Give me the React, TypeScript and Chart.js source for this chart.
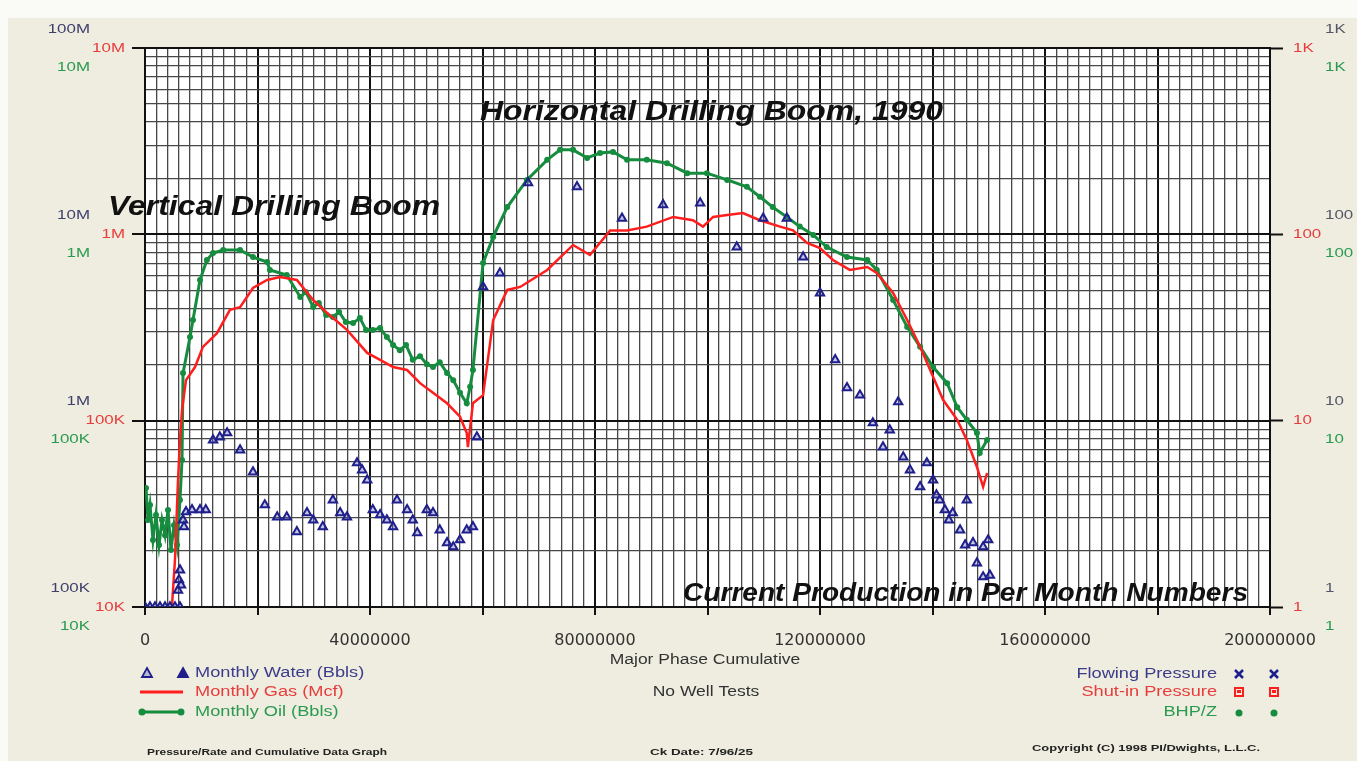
import React, { useEffect, useRef } from 'react';
import { Chart, registerables } from 'chart.js';

Chart.register(...registerables);

// ---------------- DATA ----------------
// Major phase cumulative (x), in millions
const oilCumM = [0.18, 0.53, 0.89, 1.42, 1.96, 2.49, 3.02, 3.56, 4.09, 4.62, 5.16, 5.69, 6.22, 6.58, 6.76, 8.0, 8.53, 9.78, 11.0, 12.1, 13.9, 16.9, 19.2, 21.7, 22.2, 25.2, 27.6, 28.6, 29.9, 30.9, 32.2, 33.4, 34.5, 35.7, 37.0, 38.2, 39.3, 40.5, 41.8, 43.0, 44.1, 45.3, 46.4, 47.6, 48.9, 50.1, 51.2, 52.4, 53.7, 54.8, 56.0, 57.2, 57.8, 58.3, 60.1, 61.9, 64.4, 67.9, 71.5, 73.8, 76.1, 78.6, 80.9, 83.2, 85.7, 89.2, 92.8, 96.4, 99.9, 103.5, 107.0, 109.3, 111.6, 114.1, 116.4, 118.8, 121.2, 124.8, 128.4, 130.1, 133.0, 135.5, 137.8, 140.1, 142.6, 144.4, 146.1, 147.9, 148.4, 149.7];
// Monthly oil (Bbls), in thousands
const oilK = [43.5, 29.3, 35.3, 22.9, 31.2, 21.5, 29.3, 24.3, 33.2, 20.2, 27.5, 21.5, 37.5, 61.5, 180, 281, 347, 569, 728, 794, 824, 824, 755, 710, 644, 605, 461, 490, 407, 428, 369, 360, 383, 338, 334, 356, 307, 307, 314, 281, 255, 239, 255, 212, 222, 201, 194, 206, 180, 165, 141, 124, 152, 187, 702, 968, 1400, 1960, 2510, 2840, 2840, 2570, 2730, 2770, 2510, 2510, 2410, 2130, 2130, 1960, 1800, 1590, 1400, 1240, 1100, 992, 855, 755, 728, 644, 444, 318, 249, 194, 159, 118, 101, 85.9, 67.1, 78.8];

const gasCumM = [4.8, 5.33, 5.87, 6.22, 6.58, 7.29, 8.89, 10.3, 12.8, 15.1, 16.9, 19.2, 21.7, 24.0, 27.0, 29.9, 32.4, 35.9, 39.5, 41.8, 44.1, 46.6, 48.9, 51.2, 53.7, 56.0, 57.2, 57.4, 58.3, 60.1, 61.9, 64.4, 66.7, 71.5, 76.1, 79.1, 82.7, 85.7, 89.2, 93.9, 97.4, 99.2, 101.0, 103.5, 106.3, 109.3, 112.9, 115.2, 117.7, 120.0, 122.3, 125.3, 128.4, 130.1, 133.0, 135.5, 137.8, 140.1, 141.9, 144.4, 146.1, 147.9, 149.0, 149.7];
// Monthly gas (Mcf), in thousands
const gasK = [10.2, 17.9, 48.0, 78.7, 114, 165, 194, 249, 295, 393, 407, 515, 569, 590, 569, 444, 378, 307, 231, 212, 194, 187, 159, 141, 124, 105, 85.9, 72.2, 124, 137, 347, 503, 522, 644, 877, 775, 1050, 1050, 1100, 1240, 1190, 1100, 1240, 1270, 1300, 1190, 1100, 1050, 898, 845, 728, 644, 668, 620, 484, 347, 249, 172, 129, 101, 78.7, 56.4, 44.1, 52.4];

const waterCumM = [0, 0.89, 1.78, 2.67, 3.56, 4.44, 5.33, 6.22, 5.87, 6.04, 6.22, 6.4, 6.76, 6.93, 7.29, 8.36, 9.78, 10.8, 12.1, 13.3, 14.6, 16.9, 19.2, 21.3, 23.5, 25.2, 27.0, 28.8, 29.9, 31.6, 33.4, 34.7, 35.9, 37.7, 38.6, 39.5, 40.5, 41.8, 43.0, 44.1, 44.8, 46.6, 47.6, 48.4, 50.1, 51.2, 52.4, 53.7, 54.8, 56.0, 57.2, 58.3, 59.0, 60.1, 63.1, 68.1, 76.8, 84.8, 92.1, 98.7, 105.2, 109.9, 114.1, 117.0, 120.0, 122.7, 124.8, 127.1, 129.4, 131.2, 132.4, 133.9, 134.8, 136.0, 137.8, 139.0, 140.1, 140.7, 141.3, 142.2, 142.9, 143.6, 144.9, 145.8, 146.1, 147.2, 147.9, 149.0, 149.0, 149.9, 150.2];
// Monthly water (Bbls), in thousands
const waterK = [100, 100, 100, 100, 100, 100, 100, 100, 123, 140, 158, 131, 293, 269, 324, 332, 332, 332, 787, 817, 859, 696, 530, 353, 304, 304, 253, 320, 293, 269, 375, 320, 304, 593, 543, 480, 332, 312, 293, 269, 375, 332, 293, 250, 332, 320, 259, 221, 210, 229, 259, 269, 817, 5220, 6200, 18900, 18000, 12200, 14400, 14700, 8550, 12200, 12200, 7550, 4840, 2120, 1500, 1370, 972, 722, 891, 1260, 638, 543, 441, 593, 480, 399, 375, 332, 293, 320, 259, 215, 375, 221, 172, 210, 145, 229, 148];

// Axis tick values and labels
const xTickValues = [0, 40e6, 80e6, 120e6, 160e6, 200e6];
const xTickLabels = ['0', '40000000', '80000000', '120000000', '160000000', '200000000'];
const waterDecades = [1e5, 1e6, 1e7, 1e8];
const waterDecadeLabels = ['100K', '1M', '10M', '100M'];
const gasDecades = [1e4, 1e5, 1e6, 1e7];
const gasDecadeLabels = ['10K', '100K', '1M', '10M'];
const oilDecades = [1e4, 1e5, 1e6, 1e7];
const oilDecadeLabels = ['10K', '100K', '1M', '10M'];
const pressureDecades = [1, 10, 100, 1000];
const pressureDecadeLabels = ['1', '10', '100', '1K'];

// Text
const titleHorizontal = 'Horizontal Drilling Boom, 1990';
const titleVertical = 'Vertical Drilling Boom';
const titleCurrent = 'Current Production in Per Month Numbers';
const xAxisTitle = 'Major Phase Cumulative';
const wellTestNote = 'No Well Tests';
const leftLegend = ['Monthly Water (Bbls)', 'Monthly Gas (Mcf)', 'Monthly Oil (Bbls)'];
const rightLegend = ['Flowing Pressure', 'Shut-in Pressure', 'BHP/Z'];
const footerLeft = 'Pressure/Rate and Cumulative Data Graph';
const footerCenter = 'Ck Date: 7/96/25';
const footerRight = 'Copyright (C) 1998 PI/Dwights, L.L.C.';

// ---------------- STYLE ----------------
const NAVY = '#1f1f8c';
const RED = '#ff1e1e';
const GREEN = '#168c3e';
const NAVY_T = '#3c3c8c';
const RED_T = '#e83c3c';
const GREEN_T = '#2a9a50';
const MINOR = '#474747';
const FONT = '"Liberation Sans", Arial, sans-serif';

const isDecade = (v: number) => {
  if (!(v > 0)) return false;
  const l = Math.log10(v);
  return Math.abs(l - Math.round(l)) < 1e-6;
};
const logTicks = (min: number, max: number) => {
  const out: { value: number }[] = [];
  const e0 = Math.round(Math.log10(min));
  const e1 = Math.round(Math.log10(max));
  for (let e = e0; e < e1; e++) for (let m = 1; m < 10; m++) out.push({ value: m * Math.pow(10, e) });
  out.push({ value: max });
  return out;
};
const isMajorX = (v: number) => Math.abs(v / 20e6 - Math.round(v / 20e6)) < 1e-9;

function stext(
  ctx: CanvasRenderingContext2D,
  text: string,
  x: number,
  y: number,
  size: number,
  color: string,
  align: CanvasTextAlign,
  sx = 1.3,
  style = ''
) {
  ctx.save();
  ctx.font = `${style} ${size}px ${FONT}`;
  ctx.fillStyle = color;
  ctx.textBaseline = 'middle';
  ctx.textAlign = align;
  ctx.translate(x, y);
  ctx.scale(sx, 1);
  ctx.fillText(text, 0, 0);
  ctx.restore();
}

function fitText(
  ctx: CanvasRenderingContext2D,
  text: string,
  x: number,
  y: number,
  size: number,
  color: string,
  width: number,
  style = ''
) {
  ctx.save();
  ctx.font = `${style} ${size}px ${FONT}`;
  const w = ctx.measureText(text).width || 1;
  ctx.restore();
  stext(ctx, text, x, y, size, color, 'left', width / w, style);
}

const backgroundPlugin = {
  id: 'bg',
  beforeDraw(chart: any) {
    const { ctx, width, height, chartArea } = chart;
    ctx.save();
    ctx.fillStyle = '#fafaf6';
    ctx.fillRect(0, 0, width, height);
    ctx.fillStyle = '#eeeddf';
    ctx.fillRect(8, 18, width - 8, height - 18);
    ctx.fillStyle = '#ffffff';
    ctx.fillRect(chartArea.left, chartArea.top, chartArea.right - chartArea.left, chartArea.bottom - chartArea.top);
    ctx.restore();
  },
};

const textPlugin = {
  id: 'texts',
  afterDraw(chart: any) {
    const ctx: CanvasRenderingContext2D = chart.ctx;
    const s = chart.scales;
    // left axis labels (water / gas / oil)
    for (let i = 0; i < 4; i++) {
      stext(ctx, waterDecadeLabels[i], 90, s.yWater.getPixelForValue(waterDecades[i]) - 19, 13, '#40406e', 'right');
      stext(ctx, gasDecadeLabels[i], 125, s.y.getPixelForValue(gasDecades[i]), 13, RED_T, 'right');
      stext(ctx, oilDecadeLabels[i], 90, s.yOil.getPixelForValue(oilDecades[i]) + 19, 13, GREEN_T, 'right');
    }
    // right axis labels (pressure)
    for (let i = 0; i < 4; i++) {
      const py = s.yP.getPixelForValue(pressureDecades[i]);
      stext(ctx, pressureDecadeLabels[i], 1325, py - 19, 13, '#55556a', 'left');
      stext(ctx, pressureDecadeLabels[i], 1293, py, 13, RED_T, 'left');
      stext(ctx, pressureDecadeLabels[i], 1325, py + 19, 13, GREEN_T, 'left');
    }
    // annotations
    fitText(ctx, titleHorizontal, 480, 112, 28, '#111', 463, 'italic bold');
    fitText(ctx, titleVertical, 108, 207, 28, '#111', 332, 'italic bold');
    fitText(ctx, titleCurrent, 683, 594, 25, '#111', 565, 'italic bold');

    // center texts
    stext(ctx, xAxisTitle, 705, 660, 14, '#333', 'center', 1.25);
    stext(ctx, wellTestNote, 706, 692, 14, '#333', 'center', 1.25);

    // left legend
    ctx.save();
    const tri = (x: number, y: number, fill: boolean) => {
      ctx.beginPath();
      ctx.moveTo(x, y - 5);
      ctx.lineTo(x + 5, y + 4);
      ctx.lineTo(x - 5, y + 4);
      ctx.closePath();
      ctx.fillStyle = fill ? NAVY : 'rgba(90,90,190,0.35)';
      ctx.fill();
      ctx.strokeStyle = NAVY;
      ctx.lineWidth = 1.8;
      ctx.stroke();
    };
    tri(147, 673, false);
    tri(183, 673, true);
    ctx.strokeStyle = RED;
    ctx.lineWidth = 3;
    ctx.beginPath();
    ctx.moveTo(140, 692);
    ctx.lineTo(183, 692);
    ctx.stroke();
    ctx.strokeStyle = GREEN;
    ctx.beginPath();
    ctx.moveTo(142, 712);
    ctx.lineTo(181, 712);
    ctx.stroke();
    for (const cx of [142, 181]) {
      ctx.beginPath();
      ctx.arc(cx, 712, 3.5, 0, Math.PI * 2);
      ctx.fillStyle = GREEN;
      ctx.fill();
    }
    ctx.restore();
    stext(ctx, leftLegend[0], 195, 673, 14, NAVY_T, 'left', 1.3);
    stext(ctx, leftLegend[1], 195, 692, 14, RED_T, 'left', 1.3);
    stext(ctx, leftLegend[2], 195, 712, 14, GREEN_T, 'left', 1.3);

    // right legend
    stext(ctx, rightLegend[0], 1217, 674, 14, NAVY_T, 'right', 1.3);
    stext(ctx, rightLegend[1], 1217, 692, 14, RED_T, 'right', 1.3);
    stext(ctx, rightLegend[2], 1217, 712, 14, GREEN_T, 'right', 1.3);
    ctx.save();
    for (const cx of [1239, 1274]) {
      ctx.strokeStyle = NAVY;
      ctx.lineWidth = 2.5;
      ctx.beginPath();
      ctx.moveTo(cx - 4, 670);
      ctx.lineTo(cx + 4, 678);
      ctx.moveTo(cx + 4, 670);
      ctx.lineTo(cx - 4, 678);
      ctx.stroke();
      ctx.strokeStyle = RED;
      ctx.lineWidth = 2;
      ctx.strokeRect(cx - 4, 688, 8, 8);
      ctx.fillStyle = RED;
      ctx.fillRect(cx - 2, 690, 4, 3);
      ctx.fillStyle = GREEN;
      ctx.beginPath();
      ctx.arc(cx, 713, 3.5, 0, Math.PI * 2);
      ctx.fill();
    }
    ctx.restore();

    // footer
    fitText(ctx, footerLeft, 147, 753, 9, '#222', 240, 'bold');
    fitText(ctx, footerCenter, 650, 753, 9, '#222', 103, 'bold');
    fitText(ctx, footerRight, 1032, 749, 9, '#222', 228, 'bold');
  },
};

export default function App() {
  const ref = useRef<HTMLCanvasElement>(null);

  useEffect(() => {
    const canvas = ref.current;
    if (!canvas) return;
    const oilData = oilCumM.map((x, i) => ({ x: x * 1e6, y: oilK[i] * 1e3 }));
    const gasData = gasCumM.map((x, i) => ({ x: x * 1e6, y: gasK[i] * 1e3 }));
    const waterData = waterCumM.map((x, i) => ({ x: x * 1e6, y: waterK[i] * 1e3 }));

    const gridColor = (c: any) => (isDecade(c.tick?.value) ? '#111' : MINOR);
    const gridWidth = (c: any) => (isDecade(c.tick?.value) ? 2 : 1.3);
    const tickColor = (c: any) => (isDecade(c.tick?.value) ? '#111' : 'rgba(0,0,0,0)');

    const chart = new Chart(canvas, {
      type: 'scatter',
      data: {
        datasets: [
          {
            label: leftLegend[0],
            data: waterData,
            yAxisID: 'yWater',
            showLine: false,
            pointStyle: 'triangle',
            pointRadius: 4.8,
            pointBorderWidth: 2,
            pointBorderColor: NAVY,
            pointBackgroundColor: 'rgba(90,90,190,0.35)',
          },
          {
            label: leftLegend[1],
            data: gasData,
            yAxisID: 'y',
            showLine: true,
            borderColor: RED,
            borderWidth: 2.5,
            pointRadius: 0,
            tension: 0,
          },
          {
            label: leftLegend[2],
            data: oilData,
            yAxisID: 'yOil',
            showLine: true,
            borderColor: GREEN,
            borderWidth: 3,
            pointRadius: 3,
            pointBorderWidth: 0,
            pointBackgroundColor: GREEN,
            pointBorderColor: GREEN,
            tension: 0,
          },
        ],
      },
      options: {
        responsive: false,
        animation: false,
        devicePixelRatio: 1,
        layout: { padding: { top: 48, left: 0, right: 0, bottom: 0 } },
        plugins: { legend: { display: false }, tooltip: { enabled: false } },
        scales: {
          x: {
            type: 'linear',
            position: 'bottom',
            min: 0,
            max: 200e6,
            afterBuildTicks: (sc: any) => {
              const t: { value: number }[] = [];
              for (let v = 0; v <= 200e6; v += 2e6) t.push({ value: v });
              sc.ticks = t;
            },
            afterFit: (sc: any) => {
              sc.height = 154;
            },
            grid: {
              color: (c: any) => (isMajorX(c.tick?.value) ? '#111' : MINOR),
              lineWidth: (c: any) => (isMajorX(c.tick?.value) ? 2 : 1.3),
              tickLength: 8,
              tickColor: (c: any) => (isMajorX(c.tick?.value) ? '#111' : 'rgba(0,0,0,0)'),
              tickWidth: 2,
            },
            border: { display: true, color: '#111', width: 2 },
            ticks: {
              autoSkip: false,
              maxRotation: 0,
              minRotation: 0,
              padding: 16,
              color: '#333',
              font: { family: '"DejaVu Sans", sans-serif', size: 16 },
              callback: (v: any) => {
                const i = xTickValues.indexOf(Number(v));
                return i >= 0 ? xTickLabels[i] : '';
              },
            },
          },
          y: {
            type: 'logarithmic',
            position: 'left',
            min: 1e4,
            max: 1e7,
            afterBuildTicks: (sc: any) => {
              sc.ticks = logTicks(1e4, 1e7);
            },
            afterFit: (sc: any) => {
              sc.width = 145;
            },
            ticks: { display: false },
            grid: { color: gridColor, lineWidth: gridWidth, tickLength: 13, tickColor, tickWidth: 2 },
            border: { display: true, color: '#111', width: 2 },
          },
          yWater: { type: 'logarithmic', display: false, min: 1e5, max: 1e8 },
          yOil: { type: 'logarithmic', display: false, min: 1e4, max: 1e7 },
          yP: {
            type: 'logarithmic',
            position: 'right',
            min: 1,
            max: 1000,
            afterBuildTicks: (sc: any) => {
              sc.ticks = logTicks(1, 1000);
            },
            afterFit: (sc: any) => {
              sc.width = 87;
            },
            ticks: { display: false },
            grid: { drawOnChartArea: false, tickLength: 13, tickColor, tickWidth: 2 },
            border: { display: true, color: '#111', width: 2 },
          },
        },
      } as any,
      plugins: [backgroundPlugin, textPlugin],
    });
    return () => chart.destroy();
  }, []);

  return (
    <div style={{ position: 'fixed', left: 0, top: 0, width: 1357, height: 761 }}>
      <canvas ref={ref} width={1357} height={761} style={{ display: 'block', width: 1357, height: 761 }} />
    </div>
  );
}
